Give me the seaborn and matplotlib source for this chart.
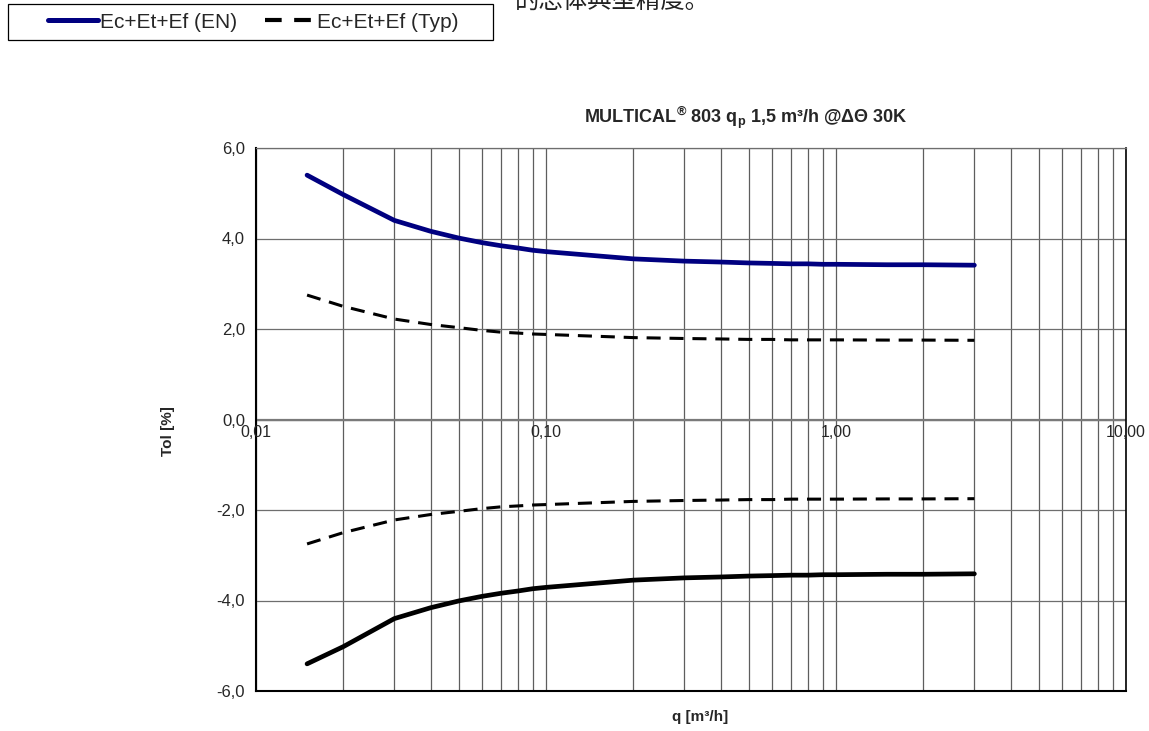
import matplotlib
matplotlib.use("Agg")
import matplotlib.pyplot as plt
import seaborn as sns
import numpy as np
import pandas as pd
from matplotlib.lines import Line2D
from matplotlib.patches import Rectangle

# ---- data ----
q = [0.015, 0.02, 0.03, 0.04, 0.05, 0.06, 0.07, 0.08, 0.09, 0.10,
     0.20, 0.30, 0.40, 0.50, 0.60, 0.70, 0.80, 0.90, 1.00, 1.50, 2.00, 3.00]
tol_en_upper = [5.40, 4.97, 4.40, 4.16, 4.01, 3.91, 3.84, 3.79, 3.74, 3.71,
                3.55, 3.50, 3.48, 3.46, 3.45, 3.44, 3.44, 3.43, 3.43, 3.42, 3.42, 3.41]
tol_en_lower = [-5.40, -5.02, -4.40, -4.16, -4.01, -3.91, -3.84, -3.79, -3.74, -3.71,
                -3.55, -3.50, -3.48, -3.46, -3.45, -3.44, -3.44, -3.43, -3.43, -3.42, -3.42, -3.41]
tol_typ_upper = [2.75, 2.50, 2.22, 2.10, 2.03, 1.97, 1.93, 1.91, 1.89, 1.88,
                 1.81, 1.79, 1.78, 1.77, 1.77, 1.76, 1.76, 1.76, 1.76, 1.755, 1.755, 1.75]
tol_typ_lower = [-2.75, -2.50, -2.22, -2.10, -2.03, -1.97, -1.93, -1.91, -1.89, -1.88,
                 -1.81, -1.79, -1.78, -1.77, -1.77, -1.76, -1.76, -1.76, -1.76, -1.755, -1.755, -1.75]

x_tick_values = [0.01, 0.1, 1.0, 10.0]
x_tick_labels = ["0,01", "0,10", "1,00", "10,00"]
y_tick_values = [-6, -4, -2, 0, 2, 4, 6]
y_tick_labels = ["-6,0", "-4,0", "-2,0", "0,0", "2,0", "4,0", "6,0"]

legend_labels = ["Ec+Et+Ef (EN)", "Ec+Et+Ef (Typ)"]
title_text = r"MULTICAL$^{\mathrm{®}}$ 803 q$_{\mathrm{p}}$ 1,5 m³/h @ΔΘ 30K"
top_note = "的总体典型精度。"

sns.set_style("white")
plt.rcParams['font.family'] = ['Liberation Sans', 'DejaVu Sans']
plt.rcParams['mathtext.fontset'] = 'custom'
plt.rcParams['mathtext.rm'] = 'Liberation Sans:bold'
plt.rcParams['mathtext.it'] = 'Liberation Sans:bold'
plt.rcParams['mathtext.bf'] = 'Liberation Sans:bold'

W, H = 1149, 731
fig = plt.figure(figsize=(W/100, H/100), dpi=100)
ax = fig.add_axes([256/W, 1-691/H, 870/W, 543/H])

navy = "#000080"
dash = (0, (4.6, 2.9))
df = pd.DataFrame({"q": q, "enu": tol_en_upper, "enl": tol_en_lower,
                   "tyu": tol_typ_upper, "tyl": tol_typ_lower})
sns.lineplot(data=df, x="q", y="enu", ax=ax, color=navy, lw=3.4, solid_capstyle='round', zorder=5)
sns.lineplot(data=df, x="q", y="enl", ax=ax, color="black", lw=3.4, solid_capstyle='round', zorder=5)
sns.lineplot(data=df, x="q", y="tyu", ax=ax, color="black", lw=2.2, linestyle=dash, zorder=5)
sns.lineplot(data=df, x="q", y="tyl", ax=ax, color="black", lw=2.2, linestyle=dash, zorder=5)

ax.set_xscale("log")
ax.set_xlim(0.01, 10)
ax.set_ylim(-6, 6)

# grid
ax.set_xticks(x_tick_values)
ax.set_xticks([m * d for d in [0.01, 0.1, 1.0] for m in range(2, 10)], minor=True)
ax.set_xticklabels([])
ax.tick_params(axis='x', which='both', length=0)
ax.grid(True, which='both', axis='x', color="#5e5e5e", lw=0.9)
ax.set_yticks(y_tick_values)
ax.set_yticklabels(y_tick_labels, fontsize=12)
ax.tick_params(axis='y', length=5, color="#6e6e6e", width=0.9, pad=3)
ax.grid(True, which='major', axis='y', color="#6e6e6e", lw=0.9)
ax.axhline(0, color="#7a7a7a", lw=1.6, zorder=1)

for s in ["left", "bottom"]:
    ax.spines[s].set_color("black")
    ax.spines[s].set_linewidth(1.5)
ax.spines["right"].set_color("black")
ax.spines["right"].set_linewidth(1.2)
ax.spines["top"].set_color("#6e6e6e")
ax.spines["top"].set_linewidth(0.9)

for v, lab in zip(x_tick_values, x_tick_labels):
    ax.annotate(lab, xy=(v, 0), xytext=(0, -4), textcoords="offset points",
                ha="center", va="top", fontsize=11.5)

ax.set_ylabel("Tol [%]", fontsize=11, fontweight="bold")
ax.yaxis.set_label_coords(-81/870, 0.479)
ax.set_xlabel("q [m³/h]", fontsize=11, fontweight="bold")
ax.xaxis.set_label_coords(0.510, -0.035)

fig.text(746/W, 1-118/H, title_text, ha="center", va="center",
         fontsize=13, fontweight="bold")

fig.text(515/W, 1-1.5/H, top_note, ha="left", va="center", fontsize=17.6,
         color="#222222", family=['Noto Sans CJK SC', 'DejaVu Sans'])

# legend box (frame drawn as a figure rectangle)
fig.patches.append(Rectangle((8/W, 1-40/H), 485/W, 36/H, transform=fig.transFigure,
                             facecolor="white", edgecolor="black", lw=0.9, zorder=0))
handles = [Line2D([], [], color=navy, lw=3.6, solid_capstyle='round'),
           Line2D([], [], color="black", lw=3.0, linestyle=(0, (4.0, 3.0)))]
leg = fig.legend(handles, legend_labels, loc="center",
                 bbox_to_anchor=(253/W, 1-22/H), ncol=2, fontsize=15,
                 frameon=False, handlelength=2.4, handletextpad=0.1,
                 columnspacing=1.35, borderpad=0.2, borderaxespad=0)

fig.savefig("out.png", dpi=100)
